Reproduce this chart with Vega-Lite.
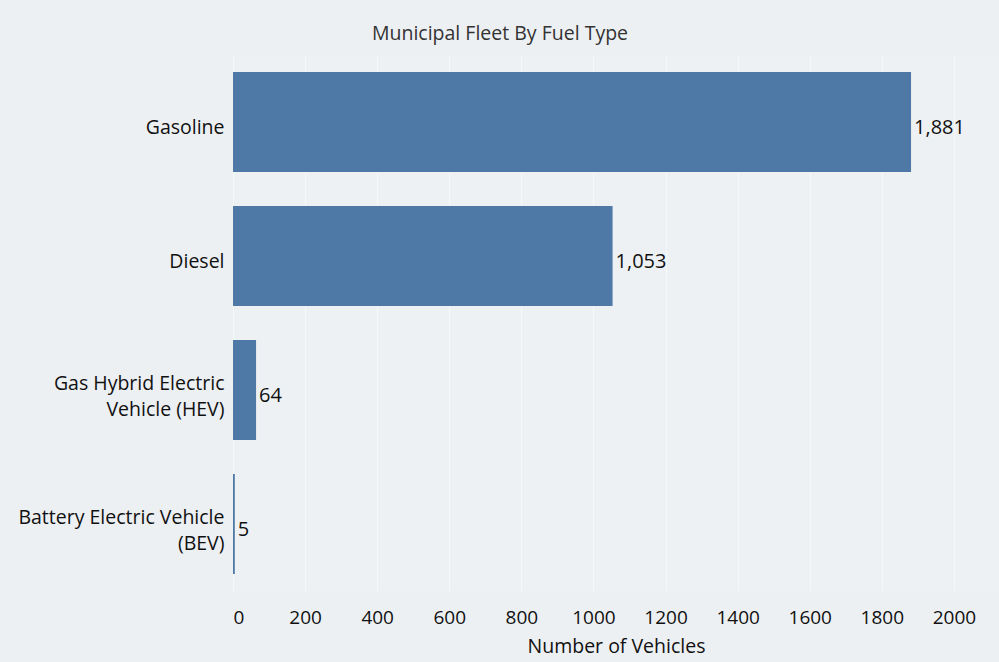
{
  "$schema": "https://vega.github.io/schema/vega-lite/v6.json",
  "autosize": {"type": "none"},
  "padding": {"left": 233, "top": 55, "right": 0, "bottom": 71},
  "width": 766,
  "height": 536,
  "background": "#edf0f3",
  "title": {
    "text": "Municipal Fleet By Fuel Type",
    "anchor": "middle",
    "frame": "group",
    "dx": -116,
    "offset": 11,
    "font": "Open Sans",
    "fontSize": 19.5,
    "fontWeight": "normal",
    "color": "#333333"
  },
  "data": {
    "values": [
      {"fuel": "Gasoline", "vehicles": 1881},
      {"fuel": "Diesel", "vehicles": 1053},
      {"fuel": "Gas Hybrid Electric Vehicle (HEV)", "vehicles": 64},
      {"fuel": "Battery Electric Vehicle (BEV)", "vehicles": 5}
    ]
  },
  "encoding": {
    "y": {
      "field": "fuel",
      "type": "nominal",
      "sort": null,
      "scale": {"paddingInner": 0.254, "paddingOuter": 0.127},
      "axis": {
        "title": null,
        "domain": false,
        "ticks": false,
        "labelPadding": 9,
        "labelOffset": {"condition": {"test": "indexof(datum.value, '(') >= 0", "value": -6}, "value": 6},
        "labelFont": "Open Sans",
        "labelFontSize": 19.5,
        "labelColor": "#111111",
        "labelLineHeight": 26,
        "labelLimit": 300,
        "labelExpr": "datum.value == 'Gas Hybrid Electric Vehicle (HEV)' ? ['Gas Hybrid Electric', 'Vehicle (HEV)'] : datum.value == 'Battery Electric Vehicle (BEV)' ? ['Battery Electric Vehicle', '(BEV)'] : datum.value"
      }
    },
    "x": {
      "field": "vehicles",
      "type": "quantitative",
      "scale": {"domain": [0, 2125], "nice": false},
      "axis": {
        "title": "Number of Vehicles",
        "values": [0, 200, 400, 600, 800, 1000, 1200, 1400, 1600, 1800, 2000],
        "format": "d",
        "domain": false,
        "ticks": false,
        "grid": true,
        "gridColor": "#f6f7f9",
        "gridWidth": 1,
        "labelPadding": 17,
        "labelFont": "Open Sans",
        "labelFontSize": 19,
        "labelColor": "#111111",
        "labelFlush": true,
        "titleFont": "Open Sans",
        "titleFontSize": 19.5,
        "titleFontWeight": "normal",
        "titleColor": "#111111",
        "titlePadding": 10
      }
    }
  },
  "layer": [
    {"mark": {"type": "bar", "color": "#4e78a6"}},
    {
      "mark": {"type": "text", "align": "left", "baseline": "middle", "dx": 3, "dy": 6, "font": "Open Sans", "fontSize": 20, "color": "#111111"},
      "encoding": {"text": {"field": "vehicles", "type": "quantitative", "format": ","}}
    }
  ],
  "config": {"view": {"stroke": null, "fill": "#eef1f4"}}
}
